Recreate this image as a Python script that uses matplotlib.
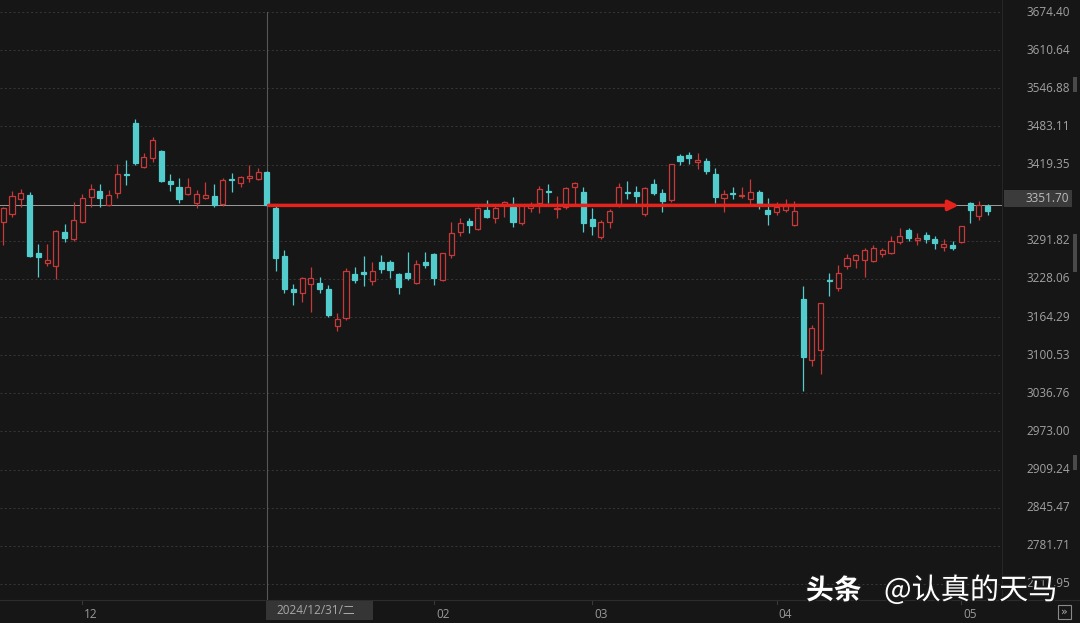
import matplotlib
matplotlib.use("Agg")
import matplotlib.pyplot as plt
import matplotlib.patheffects as pe
from matplotlib.patches import Rectangle
from matplotlib.lines import Line2D

# daily candles, Shanghai composite, 2024/11/19 .. 2025/05/09
dates = ["11/19", "11/20", "11/21", "11/22", "11/25", "11/26", "11/27", "11/28", "11/29",
         "12/02", "12/03", "12/04", "12/05", "12/06", "12/09", "12/10", "12/11", "12/12", "12/13",
         "12/16", "12/17", "12/18", "12/19", "12/20", "12/23", "12/24", "12/25", "12/26", "12/27",
         "12/30", "12/31",
         "01/02", "01/03", "01/06", "01/07", "01/08", "01/09", "01/10", "01/13", "01/14", "01/15",
         "01/16", "01/17", "01/20", "01/21", "01/22", "01/23", "01/24", "01/27",
         "02/05", "02/06", "02/07", "02/10", "02/11", "02/12", "02/13", "02/14", "02/17", "02/18",
         "02/19", "02/20", "02/21", "02/24", "02/25", "02/26", "02/27", "02/28",
         "03/03", "03/04", "03/05", "03/06", "03/07", "03/10", "03/11", "03/12", "03/13", "03/14",
         "03/17", "03/18", "03/19", "03/20", "03/21", "03/24", "03/25", "03/26", "03/27", "03/28",
         "03/31",
         "04/01", "04/02", "04/03", "04/07", "04/08", "04/09", "04/10", "04/11", "04/14", "04/15",
         "04/16", "04/17", "04/18", "04/21", "04/22", "04/23", "04/24", "04/25", "04/28", "04/29",
         "04/30",
         "05/06", "05/07", "05/08", "05/09"]

opens = [3323, 3337, 3362, 3369, 3272, 3255, 3250, 3306, 3295,
         3323, 3365, 3375, 3352, 3372, 3404, 3489, 3415, 3430, 3442,
         3391, 3382, 3370, 3355, 3363, 3367, 3353, 3395, 3388, 3397,
         3395, 3407,
         3347, 3267, 3211, 3205, 3220, 3222, 3212, 3150, 3163, 3236,
         3240, 3224, 3256, 3256, 3236, 3238, 3222, 3257,
         3270, 3226, 3268, 3306, 3325, 3312, 3344, 3330, 3352, 3348,
         3321, 3346, 3355, 3374, 3345, 3349, 3381, 3374,
         3328, 3298, 3323, 3352, 3373, 3374, 3336, 3387, 3372, 3360,
         3433, 3435, 3424, 3426, 3403, 3363, 3372, 3366, 3362, 3373,
         3344,
         3340, 3344, 3318, 3194, 3092, 3110, 3227, 3213, 3250, 3260,
         3260, 3258, 3270, 3272, 3289, 3310, 3293, 3302, 3294, 3281,
         3284,
         3290, 3355, 3333, 3350]
highs = [3348, 3375, 3378, 3373, 3286, 3287, 3310, 3320, 3357,
         3370, 3386, 3387, 3377, 3420, 3427, 3495, 3439, 3465, 3444,
         3403, 3397, 3397, 3377, 3390, 3387, 3396, 3405, 3400, 3418,
         3414, 3409,
         3352, 3276, 3220, 3231, 3248, 3231, 3218, 3171, 3246, 3248,
         3266, 3256, 3268, 3260, 3238, 3273, 3260, 3273,
         3271, 3271, 3323, 3330, 3330, 3348, 3360, 3350, 3358, 3365,
         3352, 3357, 3384, 3386, 3366, 3382, 3390, 3381,
         3347, 3327, 3345, 3388, 3392, 3383, 3381, 3395, 3379, 3421,
         3437, 3440, 3439, 3430, 3413, 3377, 3382, 3382, 3395, 3377,
         3363,
         3356, 3361, 3358, 3217, 3151, 3187, 3238, 3251, 3270, 3270,
         3280, 3285, 3280, 3300, 3313, 3313, 3305, 3306, 3299, 3295,
         3291,
         3317, 3357, 3358, 3353]
lows = [3285, 3332, 3348, 3265, 3232, 3250, 3228, 3290, 3292,
        3322, 3348, 3349, 3350, 3363, 3385, 3419, 3413, 3424, 3390,
        3375, 3355, 3368, 3347, 3361, 3348, 3350, 3374, 3382, 3390,
        3393, 3350,
        3242, 3205, 3184, 3190, 3173, 3205, 3164, 3141, 3160, 3221,
        3216, 3218, 3238, 3230, 3203, 3227, 3219, 3247,
        3218, 3224, 3263, 3300, 3305, 3310, 3330, 3322, 3332, 3315,
        3318, 3340, 3338, 3355, 3330, 3345, 3352, 3306,
        3302, 3294, 3313, 3348, 3362, 3355, 3334, 3368, 3340, 3357,
        3418, 3420, 3412, 3404, 3355, 3340, 3362, 3363, 3352, 3345,
        3318,
        3335, 3340, 3316, 3041, 3082, 3069, 3200, 3208, 3245, 3246,
        3231, 3256, 3265, 3270, 3287, 3292, 3285, 3288, 3278, 3274,
        3277,
        3288, 3322, 3326, 3335]
closes = [3346, 3367, 3371, 3267, 3264, 3260, 3309, 3296, 3326,
          3364, 3378, 3364, 3369, 3404, 3402, 3422, 3432, 3461, 3392,
          3386, 3361, 3382, 3370, 3368, 3351, 3393, 3393, 3398, 3400,
          3407, 3352,
          3263, 3211, 3207, 3230, 3230, 3211, 3168, 3161, 3241, 3227,
          3236, 3242, 3244, 3243, 3214, 3230, 3253, 3251,
          3229, 3271, 3304, 3322, 3318, 3346, 3332, 3347, 3356, 3324,
          3351, 3351, 3379, 3373, 3346, 3380, 3388, 3321,
          3317, 3324, 3342, 3381, 3372, 3366, 3380, 3372, 3359, 3420,
          3426, 3430, 3426, 3409, 3365, 3370, 3370, 3369, 3374, 3351,
          3336,
          3348, 3350, 3342, 3097, 3146, 3187, 3224, 3238, 3263, 3268,
          3276, 3280, 3277, 3291, 3300, 3296, 3297, 3295, 3288, 3287,
          3279,
          3316, 3343, 3352, 3342]

price_ticks = [3674.40, 3610.64, 3546.88, 3483.11, 3419.35, 3291.82, 3228.06, 3164.29,
               3100.53, 3036.76, 2973.00, 2909.24, 2845.47, 2781.71, 2717.95]
last_price = 3351.70
cross_idx = 30
cross_label = "2024/12/31/二"
month_labels = ["12", "02", "03", "04", "05"]   # "01" sits under the date box

BG = "#161616"
UP = "#c8393a"
DOWN = "#52cccc"
W, H = 1080, 623

fig = plt.figure(figsize=(10.8, 6.23), dpi=100, facecolor=BG)
ax = fig.add_axes([0, 23 / H, 1002 / W, 600 / H])
ax.set_facecolor(BG)
for s in ax.spines.values():
    s.set_visible(False)
ax.set_xticks([])
ax.set_yticks([])

# pixel mapping
step = 8.79
x0 = 3.2
ax.set_xlim(-x0 / step, (1002 - x0) / step)
ppx = 63.7633 / 38.13
ax.set_ylim(3674.40 - 588 * ppx, 3674.40 + 12 * ppx)

for t in price_ticks:
    ax.axhline(t, color="#383838", lw=0.7, ls=(0, (2, 2.5)), zorder=1)

bw = 0.58
for i in range(len(opens)):
    o, h, l, c = opens[i], highs[i], lows[i], closes[i]
    up = c >= o
    col = UP if up else DOWN
    ax.vlines(i, l, h, color=col, lw=0.9, zorder=3)
    bot = min(o, c)
    hgt = max(abs(c - o), 2.2)
    ax.add_patch(Rectangle((i - bw / 2, bot), bw, hgt,
                           facecolor=BG if up else col, edgecolor=col,
                           lw=0.9, zorder=4))

# last price line + crosshair
ax.axhline(last_price, color="#9c9c9c", lw=0.7, zorder=2)
ax.plot([cross_idx, cross_idx], [2691, 3674.40], color="#575757", lw=0.8, zorder=2)

# hand drawn red arrow
ax.annotate("", xy=(108.7, 3351.0), xytext=(30.2, 3351.0),
            arrowprops=dict(arrowstyle="-|>", color="#e5221c", lw=2.5,
                            mutation_scale=15, shrinkA=0, shrinkB=0),
            zorder=6)

# right price scale
ytr = ax.get_yaxis_transform()
for t in price_ticks:
    ax.text(1070 / 1002, t, f"{t:.2f}", transform=ytr, ha="right", va="center",
            fontsize=8.5, color="#a2a2a2", family="Open Sans", clip_on=False)

box = Rectangle((1004 / W, (H - 207) / H), 68 / W, 17 / H, transform=fig.transFigure,
                facecolor="#3b3b3b", edgecolor="none")
fig.add_artist(box)
fig.text(1069 / W, (H - 198.5) / H, f"{last_price:.2f}", ha="right", va="center",
         fontsize=8.5, color="#bdbdbd", family="Open Sans")

# separators
fig.add_artist(Line2D([1002 / W, 1002 / W], [23 / H, 1], color="#262626", lw=0.8))
fig.add_artist(Line2D([0, 1], [23 / H, 23 / H], color="#2c2c2c", lw=0.8))

# scrollbar bits on the right edge
for y_top, y_bot in [(77, 92), (234, 272), (455, 470)]:
    fig.add_artist(Rectangle((1073 / W, (H - y_bot) / H), 4 / W, (y_bot - y_top) / H,
                             transform=fig.transFigure, facecolor="#4a4a4a",
                             edgecolor="none"))

# month labels along the bottom
xtr = ax.get_xaxis_transform()
prev = dates[0][:2]
for i, d in enumerate(dates):
    m = d[:2]
    if m != prev and m in month_labels:
        ax.text(i + 1.0, -14 / 600, m, transform=xtr, ha="center", va="center",
                fontsize=8.5, color="#9a9a9a", family="Open Sans", clip_on=False)
        ax.plot([i, i], [0, -4 / 600], transform=xtr, color="#3a3a3a", lw=0.8,
                clip_on=False)
    prev = m

# crosshair date box
fig.add_artist(Rectangle((266 / W, (H - 620) / H), 107 / W, 19 / H,
                         transform=fig.transFigure, facecolor="#353535",
                         edgecolor="none", zorder=5))
fig.text(276 / W, (H - 610.5) / H, cross_label, ha="left", va="center",
         fontsize=8.5, color="#a8a8a8", family=["Open Sans", "Noto Sans CJK SC"],
         zorder=6)

# expand button bottom right
fig.add_artist(Rectangle((1058 / W, (H - 619) / H), 13 / W, 14 / H,
                         transform=fig.transFigure, facecolor="none",
                         edgecolor="#8a8a8a", lw=0.8))
fig.text(1064.5 / W, (H - 612) / H, "»", ha="center", va="center", fontsize=8,
         color="#b0b0b0")

# watermark
shade = [pe.withStroke(linewidth=2.5, foreground="#1a1a1a")]
fig.text(806 / W, (H - 599) / H, "头条", ha="left", va="baseline", fontsize=20,
         color="white", family="Noto Sans CJK SC", weight="bold", zorder=10,
         path_effects=shade)
fig.text(884 / W, (H - 599) / H, "@认真的天马", ha="left", va="baseline", fontsize=21,
         color="white", family="Noto Sans CJK SC", zorder=10, path_effects=shade)

fig.savefig("out.png", dpi=100, facecolor=BG)
